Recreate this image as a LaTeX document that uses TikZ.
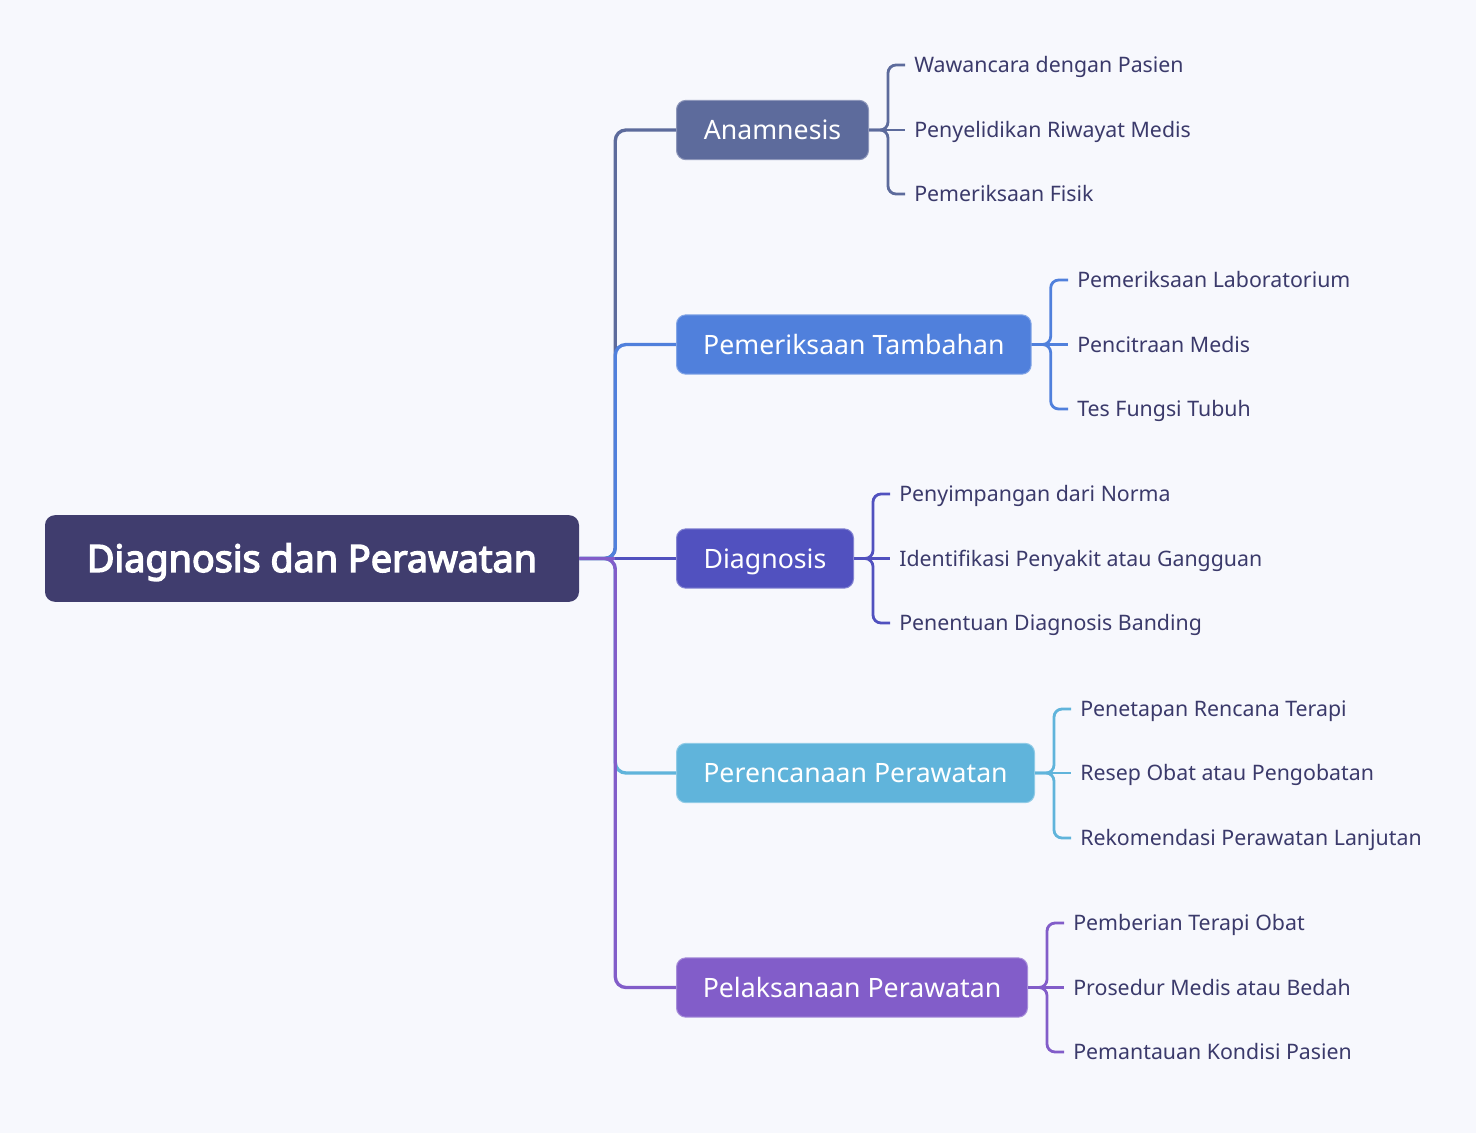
\documentclass[tikz,border=0pt]{standalone}
\usepackage{fontspec}
\setmainfont{Noto Sans}[AutoFakeBold=3.6]
\definecolor{bgc}{HTML}{F7F8FD}
\definecolor{rootc}{HTML}{403D6E}
\definecolor{c1}{HTML}{5D6B9C}
\definecolor{c2}{HTML}{5080DC}
\definecolor{c3}{HTML}{5151BF}
\definecolor{c4}{HTML}{60B4DB}
\definecolor{c5}{HTML}{825DC9}
\definecolor{leaftext}{HTML}{3B3A6B}
\tikzset{
  rootbox/.style={fill=rootc, rounded corners=7.5pt, minimum width=400.5pt, minimum height=65pt, inner sep=0pt, text height=20.2pt, text depth=0pt, text=white, font=\fontsize{28.3pt}{33pt}\selectfont\bfseries},
  childbox/.style={fill=#1, draw=#1!70!white, line width=0.75pt, rounded corners=7pt, minimum height=44.5pt, inner sep=0pt, text height=14.3pt, text depth=0pt, anchor=west, text=white, font=\fontsize{20pt}{24pt}\selectfont},
  leafnode/.style={anchor=west, inner xsep=6.75pt, inner ysep=0pt, text height=11.4pt, text depth=0pt, text=leaftext, font=\fontsize{16pt}{19pt}\selectfont},
  trunk/.style={draw=#1, line width=2.5pt, rounded corners=8pt},
  twig/.style={draw=#1, line width=2.1pt, rounded corners=6pt},
}
\begin{document}
\begin{tikzpicture}[x=0.75pt,y=-0.75pt]
\fill[bgc] (0,0) rectangle (1476,1133);
\useasboundingbox (0,0) rectangle (1476,1133);

\node[rootbox] (root) at (312,558.5) {Diagnosis dan Perawatan};

\node[childbox=c1, minimum width=144pt] (a) at (676,130) {Anamnesis};
\node[childbox=c2, minimum width=266pt] (b) at (676,344.5) {Pemeriksaan Tambahan};
\node[childbox=c3, minimum width=132.75pt] (c) at (676,558.5) {Diagnosis};
\node[childbox=c4, minimum width=268.5pt] (d) at (676,773) {Perencanaan Perawatan};
\node[childbox=c5, minimum width=263.25pt] (e) at (676,987.5) {Pelaksanaan Perawatan};

\draw[trunk=c1] (root.east) -- ++(36,0) |- (a.west);
\draw[trunk=c2] (root.east) -- ++(36,0) |- (b.west);
\draw[trunk=c4] (root.east) -- ++(36,0) |- (d.west);
\draw[trunk=c5] (root.east) -- ++(36,0) |- (e.west);
\draw[trunk=c3] (root.east) -- (c.west);
\draw[draw=c5, line width=2.5pt] (root.east) -- ++(36,0);

% Anamnesis leaves
\node[leafnode] (a1) at (905,65) {Wawancara dengan Pasien};
\node[leafnode] (a2) at (905,130) {Penyelidikan Riwayat Medis};
\node[leafnode] (a3) at (905,194) {Pemeriksaan Fisik};
\draw[twig=c1] (a.east) -- ++(19,0) |- (a1.west);
\draw[twig=c1] (a.east) -- ++(19,0) |- (a3.west);
\draw[twig=c1] (a.east) -- (a2.west);

% Pemeriksaan Tambahan leaves
\node[leafnode] (b1) at (1068,280) {Pemeriksaan Laboratorium};
\node[leafnode] (b2) at (1068,344.5) {Pencitraan Medis};
\node[leafnode] (b3) at (1068,409) {Tes Fungsi Tubuh};
\draw[twig=c2] (b.east) -- ++(19,0) |- (b1.west);
\draw[twig=c2] (b.east) -- ++(19,0) |- (b3.west);
\draw[twig=c2] (b.east) -- (b2.west);

% Diagnosis leaves
\node[leafnode] (c1n) at (890,494) {Penyimpangan dari Norma};
\node[leafnode] (c2n) at (890,558.5) {Identifikasi Penyakit atau Gangguan};
\node[leafnode] (c3n) at (890,623) {Penentuan Diagnosis Banding};
\draw[twig=c3] (c.east) -- ++(19,0) |- (c1n.west);
\draw[twig=c3] (c.east) -- ++(19,0) |- (c3n.west);
\draw[twig=c3] (c.east) -- (c2n.west);

% Perencanaan leaves
\node[leafnode] (d1) at (1071,709) {Penetapan Rencana Terapi};
\node[leafnode] (d2) at (1071,773) {Resep Obat atau Pengobatan};
\node[leafnode] (d3) at (1071,838) {Rekomendasi Perawatan Lanjutan};
\draw[twig=c4] (d.east) -- ++(19,0) |- (d1.west);
\draw[twig=c4] (d.east) -- ++(19,0) |- (d3.west);
\draw[twig=c4] (d.east) -- (d2.west);

% Pelaksanaan leaves
\node[leafnode] (e1) at (1064,923) {Pemberian Terapi Obat};
\node[leafnode] (e2) at (1064,987.5) {Prosedur Medis atau Bedah};
\node[leafnode] (e3) at (1064,1052) {Pemantauan Kondisi Pasien};
\draw[twig=c5] (e.east) -- ++(19,0) |- (e1.west);
\draw[twig=c5] (e.east) -- ++(19,0) |- (e3.west);
\draw[twig=c5] (e.east) -- (e2.west);
\end{tikzpicture}
\end{document}
